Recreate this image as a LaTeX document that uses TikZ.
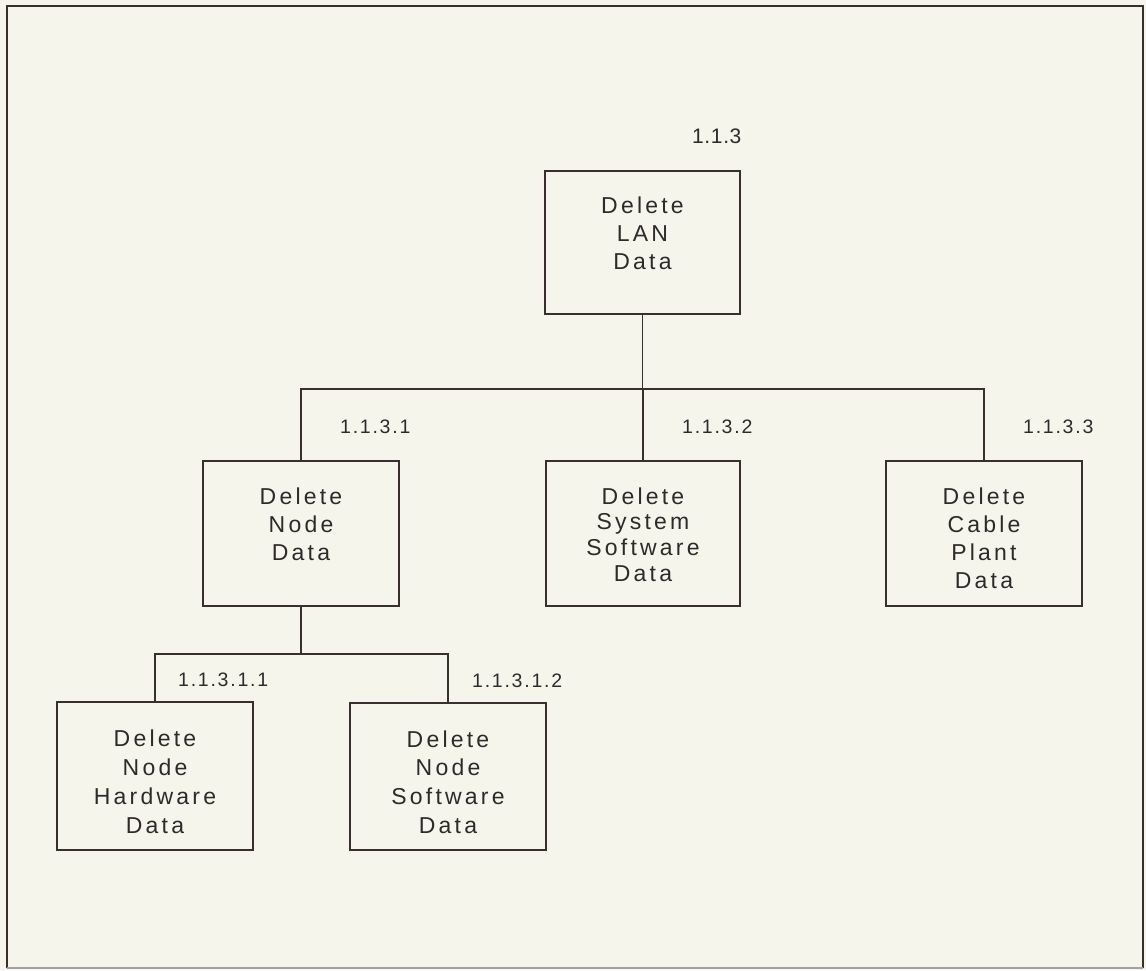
\documentclass[tikz,border=0pt]{standalone}
\usepackage{fontspec}
\setmainfont{Liberation Sans}
\newfontfamily\boxfont[LetterSpace=14]{Liberation Sans}
\newfontfamily\numfont[LetterSpace=9]{Liberation Sans}
\newfontfamily\topnumfont[LetterSpace=3]{Liberation Sans}
\definecolor{paper}{HTML}{F5F5EC}
\definecolor{ink}{HTML}{3A2F2F}
\definecolor{txt}{HTML}{2F2A2A}
\begin{document}
\begin{tikzpicture}[x=1pt,y=1pt,
  box/.style={draw=ink,line width=1.6pt,minimum width=196pt,minimum height=145pt,inner sep=0pt},
  btext/.style={anchor=north,inner sep=0pt,align=center,text=txt,
    font=\boxfont\fontsize{23}{28.2}\selectfont},
  num/.style={anchor=west,inner sep=0pt,text=txt,font=\numfont\fontsize{19.5}{21}\selectfont},
  conn/.style={draw=ink,line width=1.6pt}]
\fill[paper] (0,0) rectangle (1146,-970);
\useasboundingbox (0,0) rectangle (1146,-970);
\draw[ink,line width=1.8pt] (7,-968) -- (7,-6) -- (1143,-6) -- (1143,-968);
\draw[ink!45,line width=1.4pt] (7,-968) -- (1143,-968);

% boxes
\node[box,minimum width=195pt,minimum height=143pt] (top) at (642.5,-242.5) {};
\node[box] (n1) at (301,-533.5) {};
\node[box,minimum width=194pt] (n2) at (643,-533.5) {};
\node[box] (n3) at (984,-533.5) {};
\node[box,minimum height=148pt] (n11) at (155,-776) {};
\node[box,minimum height=147pt] (n12) at (448,-776.5) {};

% box texts
\node[btext] (ttop) at ([yshift=-26pt]top.north) {Delete\\LAN\\Data};
\node[btext] (tn1) at ([yshift=-27pt]n1.north) {Delete\\Node\\Data};
\node[btext,font=\boxfont\fontsize{23}{25.7}\selectfont] (tn2) at ([yshift=-27pt]n2.north) {Delete\\System\\Software\\Data};
\node[btext,font=\boxfont\fontsize{23}{28}\selectfont] (tn3) at ([yshift=-27pt]n3.north) {Delete\\Cable\\Plant\\Data};
\node[btext,font=\boxfont\fontsize{23}{29}\selectfont] (tn11) at ([yshift=-28pt]n11.north) {Delete\\Node\\Hardware\\Data};
\node[btext,font=\boxfont\fontsize{23}{28.7}\selectfont] (tn12) at ([yshift=-28pt]n12.north) {Delete\\Node\\Software\\Data};

% numbers
\node[num,font=\topnumfont\fontsize{21}{22}\selectfont] (ltop) at (692,-136) {1.1.3};
\node[num] (l1) at (340,-427) {1.1.3.1};
\node[num] (l2) at (682,-427) {1.1.3.2};
\node[num] (l3) at (1023,-427) {1.1.3.3};
\node[num] (l11) at (178,-680) {1.1.3.1.1};
\node[num] (l12) at (472,-681) {1.1.3.1.2};

% connectors
\coordinate (bus) at (0,-389);
\coordinate (bus2) at (0,-654);
\draw[conn] (top.south) -- (top.south |- bus);
\draw[conn] (n1.north) -- (n1.north |- bus) -- (n3.north |- bus) -- (n3.north);
\draw[conn] (n2.north) -- (n2.north |- bus);
\draw[conn] (n1.south) -- (n1.south |- bus2);
\draw[conn] (n11.north) -- (n11.north |- bus2) -- (n12.north |- bus2) -- (n12.north);
\end{tikzpicture}
\end{document}
